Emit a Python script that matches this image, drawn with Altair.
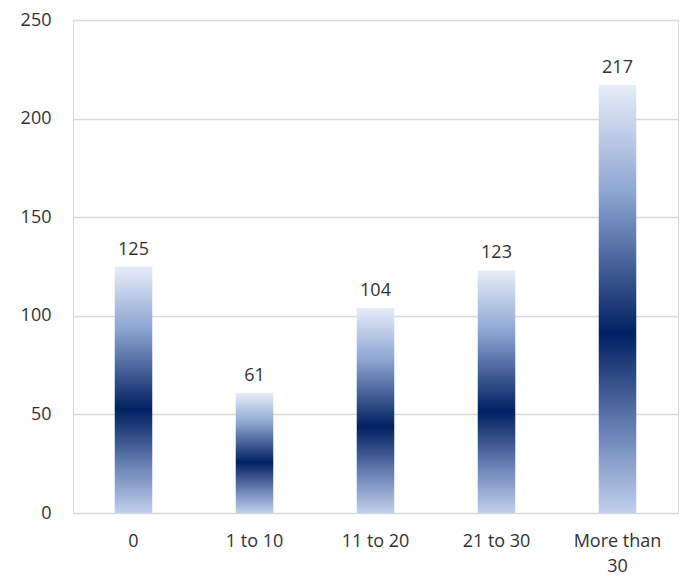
import altair as alt
import pandas as pd

categories = ["0", "1 to 10", "11 to 20", "21 to 30", "More than 30"]
values = [125, 61, 104, 123, 217]

df = pd.DataFrame({"cat": categories, "val": values})

FONT = "Open Sans"
TXT = "#333333"
FS = 18

grad = alt.Gradient(
    gradient="linear",
    x1=0, x2=0, y1=0, y2=1,
    stops=[
        alt.GradientStop(color="#e6edf8", offset=0),
        alt.GradientStop(color="#8ea6d2", offset=0.25),
        alt.GradientStop(color="#002060", offset=0.58),
        alt.GradientStop(color="#6f86b8", offset=0.82),
        alt.GradientStop(color="#c0d0ec", offset=1),
    ],
)

x = alt.X(
    "cat:N", sort=categories, title=None,
    scale=alt.Scale(paddingInner=0.69, paddingOuter=0.345),
    axis=alt.Axis(
        labelAngle=0, ticks=False, grid=False, domain=False, tickExtra=False,
        labelFont=FONT, labelFontSize=FS, labelColor=TXT, labelPadding=19,
        labelExpr="datum.value == 'More than 30' ? ['More than', '30'] : datum.value",
        labelLineHeight=25,
    ),
)
y = alt.Y(
    "val:Q", title=None,
    scale=alt.Scale(domain=[0, 250]),
    axis=alt.Axis(
        values=[0, 50, 100, 150, 200, 250], ticks=False, domain=False,
        gridColor="#d9d9d9", gridWidth=1.5,
        labelFont=FONT, labelFontSize=FS, labelColor=TXT, labelPadding=22,
    ),
)

base = alt.Chart(df)
bars = base.mark_bar(color=grad, strokeWidth=0).encode(x=x, y=y)
labels = base.mark_text(
    font=FONT, fontSize=FS, color=TXT, baseline="alphabetic", dy=-12
).encode(x=x, y=y, text="val:Q")

chart = (
    (bars + labels)
    .properties(
        width=605, height=493,
        padding={"left": 65, "top": 12, "right": 6, "bottom": 64},
        autosize=alt.AutoSizeParams(type="none"),
    )
    .configure_view(stroke="transparent", strokeWidth=0)
    .configure_axis(domain=False)
    .configure_axisBand(grid=False, tickExtra=False)
    .configure_axisLeft(domain=False)
    .configure_axisBottom(domain=False)
    .configure(background="white")
)

chart.save("out.html", embed_options={"renderer": "svg", "actions": False})
